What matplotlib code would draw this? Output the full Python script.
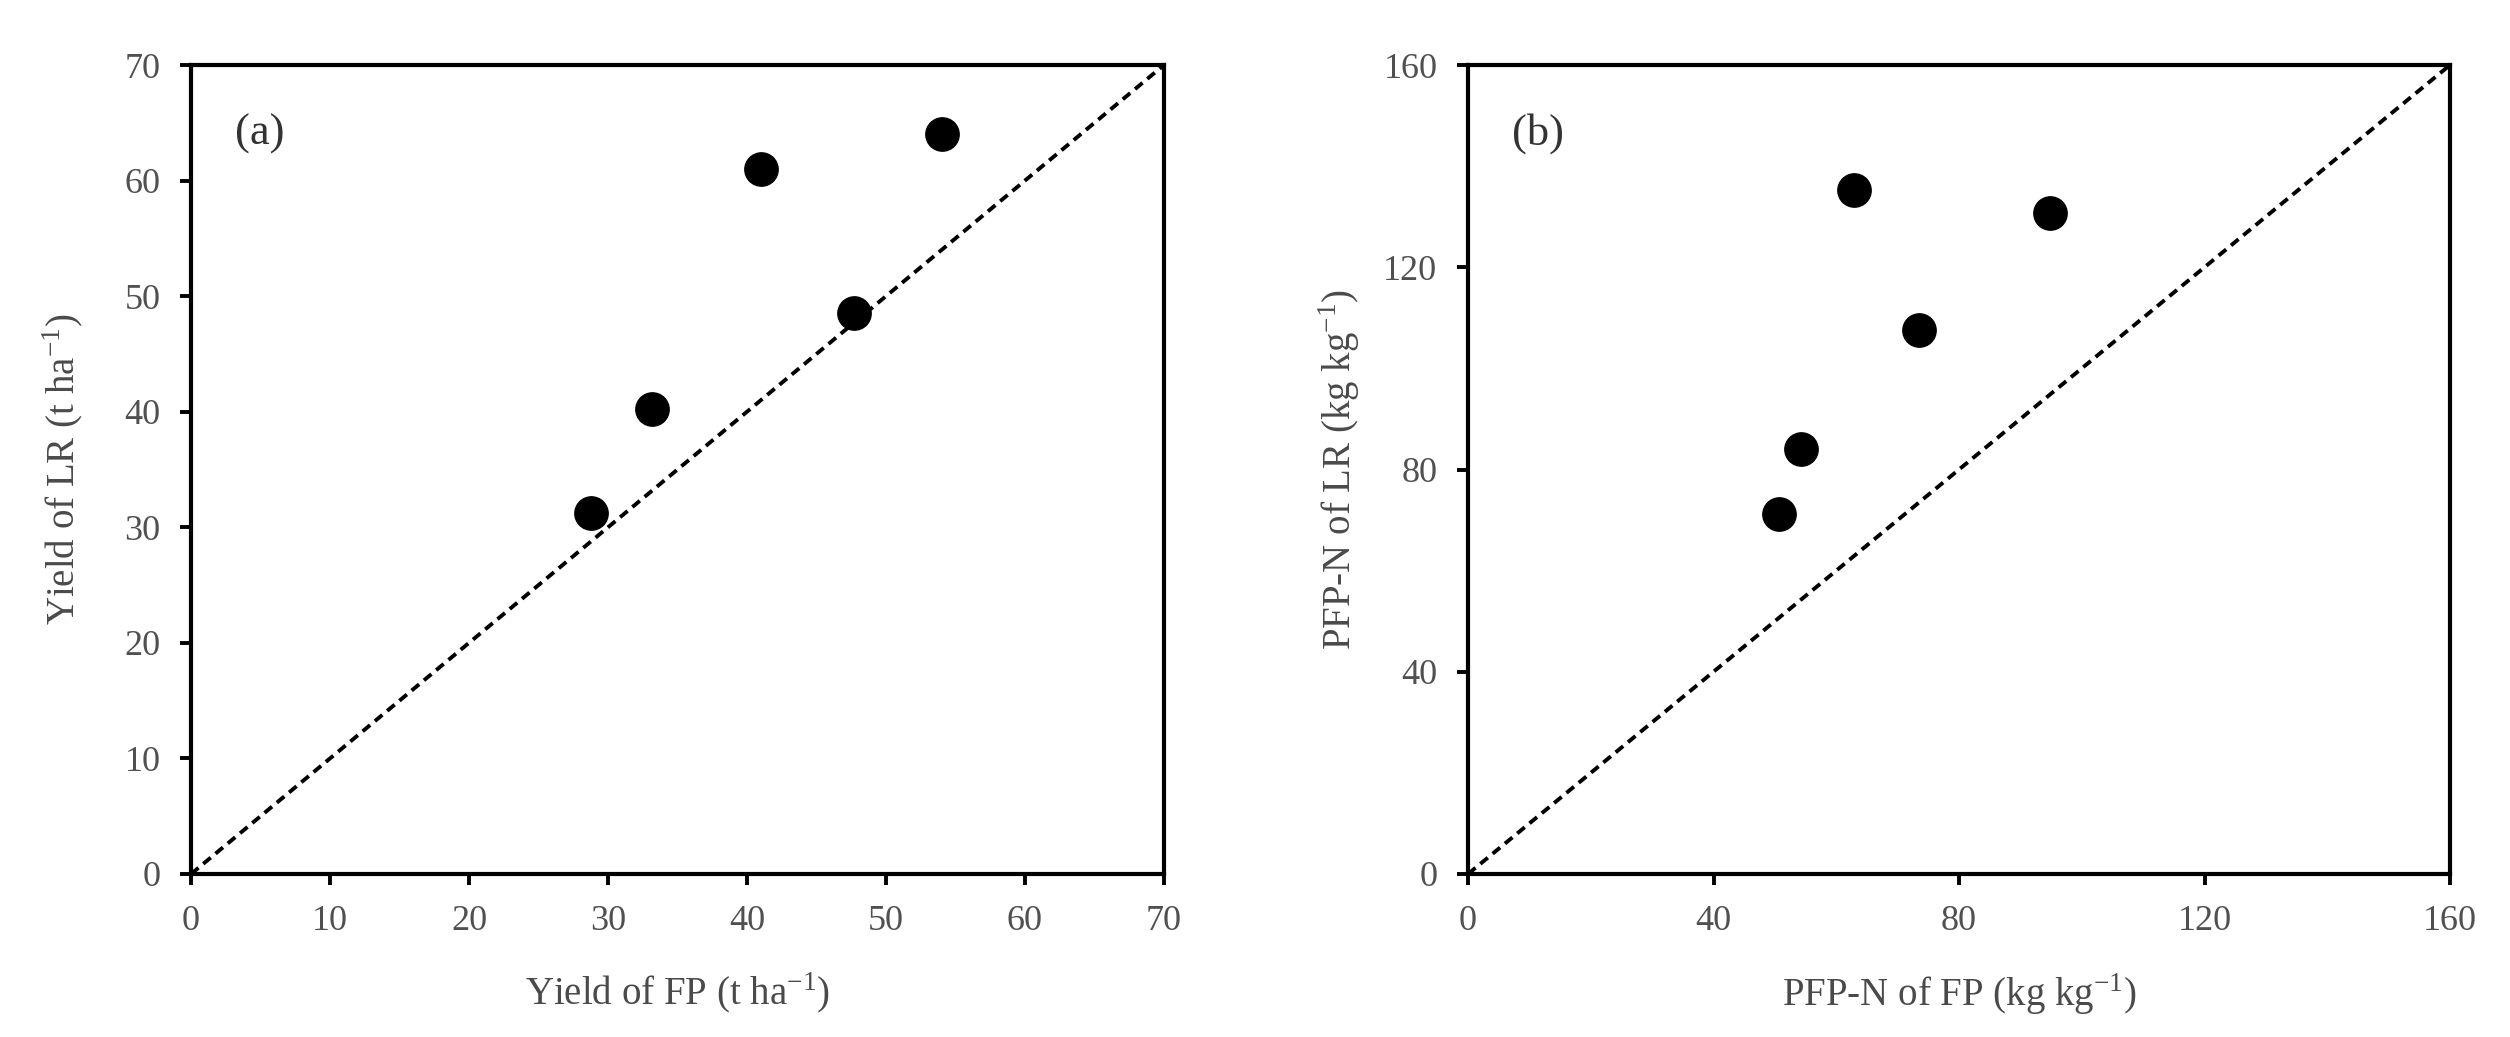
import matplotlib
matplotlib.use("Agg")
import matplotlib.pyplot as plt

plt.rcParams['font.family'] = ['Liberation Serif', 'DejaVu Serif']
plt.rcParams['mathtext.fontset'] = 'custom'
plt.rcParams['mathtext.rm'] = 'Liberation Serif'

# Panel (a): yield
yield_fp = [28.8, 33.2, 41.0, 47.7, 54.0]
yield_lr = [31.2, 40.2, 61.0, 48.5, 64.0]
yield_ticks = [0, 10, 20, 30, 40, 50, 60, 70]

# Panel (b): PFP-N
pfp_fp = [50.7, 54.3, 62.9, 73.5, 94.9]
pfp_lr = [71.2, 84.0, 135.3, 107.5, 130.8]
pfp_ticks = [0, 40, 80, 120, 160]

W, H = 2510, 1037
fig = plt.figure(figsize=(W / 100, H / 100), dpi=100)

tick_color = '#505050'
label_color = '#4a4a4a'

def setup(ax, x, y, ticks, xlabel, ylabel, tag):
    lim = ticks[-1]
    ax.plot([0, lim], [0, lim], color='black', lw=2.8, dashes=(2.5, 1.6), zorder=2)
    ax.plot(x, y, 'o', color='black', markersize=24, zorder=3)
    ax.set_xlim(0, lim)
    ax.set_ylim(0, lim)
    ax.set_xticks(ticks)
    ax.set_yticks(ticks)
    for s in ax.spines.values():
        s.set_linewidth(3.0)
        s.set_color('black')
    ax.tick_params(direction='out', length=8, width=2.8, labelsize=26,
                   labelcolor=tick_color, pad=14)
    ax.set_xlabel(xlabel, fontsize=28, color=label_color, labelpad=24)
    ax.set_ylabel(ylabel, fontsize=28, color=label_color)
    ax.yaxis.set_label_coords(-0.108, 0.5)
    ax.text(0.045, 0.915, tag, transform=ax.transAxes, fontsize=32,
            color='#333333', ha='left', va='center')

ax1 = fig.add_axes([191 / W, 1 - 874 / H, (1164 - 191) / W, (874 - 65) / H])
setup(ax1, yield_fp, yield_lr, yield_ticks,
      r'Yield of FP (t ha$^{\mathregular{-1}}$)',
      r'Yield of LR (t ha$^{\mathregular{-1}}$)', '(a)')

ax2 = fig.add_axes([1468 / W, 1 - 874 / H, (2450 - 1468) / W, (874 - 65) / H])
setup(ax2, pfp_fp, pfp_lr, pfp_ticks,
      r'PFP-N of FP (kg kg$^{\mathregular{-1}}$)',
      r'PFP-N of LR (kg kg$^{\mathregular{-1}}$)', '(b)')

fig.savefig('out.png', dpi=100, facecolor='white')
